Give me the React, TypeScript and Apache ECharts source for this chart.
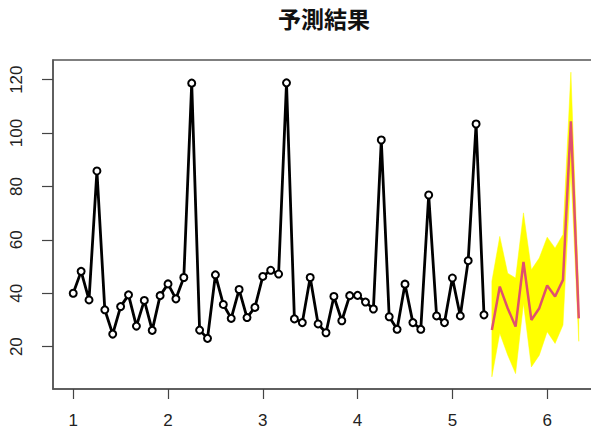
import React, { useEffect, useRef } from "react";
import * as echarts from "echarts";

const titleText = "予測結果";
const startX = 1;
const freq = 12;
const observed = [
  40.0, 48.2, 37.5, 85.8, 33.8, 24.7, 35.0, 39.4, 27.7, 37.3, 26.1, 39.1,
  43.5, 37.9, 45.9, 118.7, 26.2, 23.1, 46.9, 35.8, 30.6, 41.4, 30.9, 34.7,
  46.3, 48.6, 47.2, 118.8, 30.4, 29.0, 45.9, 28.5, 25.2, 38.8, 29.7, 39.1,
  39.2, 36.7, 34.1, 97.4, 31.2, 26.5, 43.4, 29.0, 26.5, 76.8, 31.5, 29.0,
  45.7, 31.5, 52.2, 103.4, 31.9,
];
const forecastMean = [26.2, 42.5, 34.4, 27.5, 51.7, 30.0, 34.4, 42.9, 38.8, 45.0, 104.4, 30.6];
const forecastUpper = [44.5, 61.3, 47.5, 45.7, 70.1, 48.8, 53.2, 61.0, 56.9, 62.0, 122.8, 40.0];
const forecastLower = [8.7, 25.0, 16.9, 9.9, 36.2, 12.4, 16.8, 25.6, 21.2, 28.1, 86.0, 22.0];
const xTicks = [1, 2, 3, 4, 5, 6];
const yTicks = [20, 40, 60, 80, 100, 120];

export default function App() {
  const ref = useRef<HTMLDivElement>(null);
  useEffect(() => {
    if (!ref.current) return;
    const chart = echarts.init(ref.current, null, { renderer: "svg" });
    const obsData = observed.map((v, i) => [startX + i / freq, v]);
    const n0 = observed.length;
    const fcX = forecastMean.map((_, i) => startX + (n0 + i) / freq);
    const meanData = forecastMean.map((v, i) => [fcX[i], v]);
    const bandData = fcX.map((x, i) => [x, forecastLower[i], forecastUpper[i]]);
    const xMinData = startX;
    const xMaxData = fcX[fcX.length - 1];
    const xPad = (xMaxData - xMinData) * 0.04;
    const yMinData = Math.min(...observed, ...forecastLower);
    const yMaxData = Math.max(...observed, ...forecastUpper);
    const yPad = (yMaxData - yMinData) * 0.04;
    const axisFont = "'Liberation Sans', Arial, sans-serif";
    chart.setOption({
      animation: false,
      backgroundColor: "#ffffff",
      title: {
        text: titleText,
        left: 278,
        top: 6,
        padding: 0,
        textStyle: {
          fontFamily: "'Noto Sans CJK JP', sans-serif",
          fontSize: 23,
          fontWeight: "bold",
          color: "#111",
        },
      },
      grid: {
        left: 53,
        top: 60,
        width: 546,
        height: 329,
        show: true,
        borderColor: "#555",
        borderWidth: 1.5,
        backgroundColor: "transparent",
      },
      xAxis: {
        type: "value",
        min: xMinData - xPad,
        max: xMaxData + xPad,
        axisLine: { show: true, lineStyle: { color: "#555", width: 1.5 } },
        axisTick: { show: true, customValues: xTicks, length: 10, lineStyle: { color: "#444", width: 1.2 } },
        axisLabel: {
          customValues: xTicks,
          margin: 23,
          fontSize: 17,
          color: "#222",
          fontFamily: axisFont,
        },
        splitLine: { show: false },
      },
      yAxis: {
        type: "value",
        min: yMinData - yPad,
        max: yMaxData + yPad,
        axisLine: { show: true, lineStyle: { color: "#555", width: 1.5 } },
        axisTick: { show: true, customValues: yTicks, length: 11, lineStyle: { color: "#444", width: 1.2 } },
        axisLabel: {
          customValues: yTicks,
          rotate: 90,
          margin: 28,
          fontSize: 17,
          color: "#222",
          fontFamily: axisFont,
        },
        splitLine: { show: false },
      },
      series: [
        {
          type: "custom",
          z: 1,
          data: bandData,
          encode: { x: 0, y: [1, 2] },
          renderItem: (params: any, api: any) => {
            if (params.dataIndex !== 0) return null;
            const top = bandData.map((d) => api.coord([d[0], d[2]]));
            const bottom = bandData.map((d) => api.coord([d[0], d[1]])).reverse();
            return {
              type: "polygon",
              shape: { points: top.concat(bottom) },
              style: { fill: "#FFFF00", stroke: "#FFFF00", lineWidth: 0.5 },
            };
          },
          silent: true,
        },
        {
          type: "line",
          z: 3,
          data: meanData,
          showSymbol: false,
          lineStyle: { color: "#E0506E", width: 2.5 },
          itemStyle: { color: "#E0506E" },
        },
        {
          type: "line",
          z: 4,
          data: obsData,
          symbol: "emptyCircle",
          symbolSize: 7,
          lineStyle: { color: "#000", width: 2.8 },
          itemStyle: { color: "#000", borderColor: "#000", borderWidth: 2 },
        },
      ],
    });
    return () => chart.dispose();
  }, []);
  return (
    <div
      style={{ position: "fixed", left: 0, top: 0, width: 591, height: 432, overflow: "hidden", background: "#fff" }}
    >
      <div ref={ref} style={{ width: 610, height: 432 }} />
    </div>
  );
}
